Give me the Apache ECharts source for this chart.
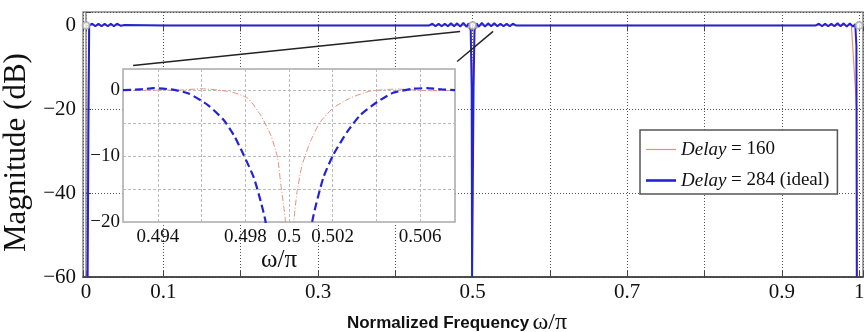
<!DOCTYPE html>
<html><head><meta charset="utf-8">
<script src="https://cdn.jsdelivr.net/npm/echarts@6/dist/echarts.min.js"></script>
<style>html,body{margin:0;padding:0;background:#fff}#c{width:864px;height:332px}</style>
</head><body><div id="c"></div>
<script>
const seriesNames = ['Delay = 160', 'Delay = 284 (ideal)'];
const mainXTickLabels = ['0', '0.1', '0.3', '0.5', '0.7', '0.9', '1'];
const mainYTickLabels = [0, -20, -40, -60];
const insetXTickLabels = ['0.494', '0.498', '0.5', '0.502', '0.506'];
const insetYTickLabels = [0, -10, -20];

// main panel, Delay = 284 (ideal)  [omega/pi, dB]
const mainBlue = [
  [0.002, -60], [0.003, -25], [0.004, 0], [0.008, 0.4], [0.012, -0.2], [0.016, 0.4], [0.020, -0.2],
  [0.024, 0.4], [0.028, -0.2], [0.032, 0.4], [0.036, -0.2], [0.040, 0.4], [0.045, -0.1], [0.05, 0.1],
  [0.1, 0], [0.2, 0], [0.3, 0], [0.4, 0], [0.444, 0], [0.448, 0.4], [0.452, -0.2], [0.456, 0.4],
  [0.460, -0.2], [0.464, 0.4], [0.468, -0.2], [0.472, 0.5], [0.476, -0.2], [0.480, 0.5], [0.484, -0.3],
  [0.488, 0.6], [0.492, -0.3], [0.495, 0.5], [0.4975, -1], [0.4988, -15], [0.4993, -60],
  [0.5007, -60], [0.5012, -15], [0.5025, -1], [0.505, 0.5], [0.508, -0.3], [0.512, 0.6], [0.516, -0.3],
  [0.520, 0.5], [0.524, -0.2], [0.528, 0.5], [0.532, -0.2], [0.536, 0.4], [0.540, -0.2], [0.544, 0.4],
  [0.548, -0.2], [0.552, 0.4], [0.556, 0], [0.6, 0], [0.7, 0], [0.8, 0], [0.9, 0], [0.944, 0],
  [0.948, 0.4], [0.952, -0.2], [0.956, 0.4], [0.960, -0.2], [0.964, 0.4], [0.968, -0.2], [0.972, 0.5],
  [0.976, -0.2], [0.980, 0.5], [0.984, -0.3], [0.988, 0.5], [0.992, -0.3], [0.995, 0.3], [0.9965, -5],
  [0.997, -60]
];
// main panel, Delay = 160
const mainRed = [
  [0.0015, -60], [0.0025, -20], [0.0035, 0], [0.06, 0], [0.49, 0], [0.4975, -1], [0.4993, -10],
  [0.4998, -40], [0.5002, -40], [0.5007, -10], [0.5025, -1], [0.51, 0], [0.99, 0], [0.9968, -20],
  [0.9975, -60]
];
// inset (zoom around 0.5)
const insetBlue = [
  [0.4924, 0], [0.4932, 0.1], [0.4938, 0.3], [0.4946, 0.1], [0.4954, -0.5], [0.4963, -2.3],
  [0.4970, -4.5], [0.49747, -6.8], [0.49792, -9.8], [0.49838, -13.2], [0.4987, -16.8], [0.49893, -20],
  [0.4995, -35], [0.5005, -35], [0.50106, -20], [0.50157, -13.3], [0.50203, -9.8], [0.50267, -6.3],
  [0.50326, -3.8], [0.50404, -1.8], [0.50477, -0.4], [0.50568, 0.2], [0.50632, 0.3], [0.5070, 0.1],
  [0.5076, 0]
];
const insetRed = [
  [0.4924, 0], [0.4949, 0], [0.4960, 0.2], [0.4973, -0.25], [0.4981, -1.2], [0.4987, -3.8],
  [0.49916, -6.8], [0.49948, -10.3], [0.49961, -13.9], [0.49975, -17.4], [0.49984, -20], [0.5000, -30],
  [0.50022, -20], [0.50037, -15.4], [0.5006, -11.4], [0.50098, -7.8], [0.50144, -4.8], [0.50203, -2.7],
  [0.50281, -1.2], [0.50372, -0.15], [0.50495, 0.15], [0.50646, -0.1], [0.5076, 0]
];
// zoom-callout lines (data coords of main panel)
const zoomLines = [
  [[0.0608, -9.56], [0.4838, -1.43]],
  [[0.480, -8.6], [0.5265, -1.43]]
];
const cursorMarks = [[0, 0], [0.5, 0], [1, 0]];

const SERIF = "'Liberation Serif','Times New Roman',serif";
const SANS = "'Liberation Sans',Arial,sans-serif";
const BLUE = '#2323d4';
const RED = '#e8907f';
const minusFmt = v => (v < 0 ? '\u2212' + Math.abs(v) : String(v));

const chart = echarts.init(document.getElementById('c'), null, {renderer: 'canvas'});
chart.setOption({
  animation: false,
  backgroundColor: '#fff',
  grid: [
    {left: 83, top: 12, right: 1, bottom: 55, show: true, containLabel: false, outerBoundsMode: 'none',
      borderColor: '#888', borderWidth: 1.5, backgroundColor: 'transparent', z: 0},
    {left: 123, top: 69, width: 332, height: 153, show: true, containLabel: false, outerBoundsMode: 'none',
      borderColor: '#aaa', borderWidth: 1.5, backgroundColor: '#fff', z: 5}
  ],
  xAxis: [
    {
      gridIndex: 0, type: 'value', min: -0.004, max: 1.005, splitNumber: 10,
      axisLine: {show: true, onZero: false, lineStyle: {color: '#333', width: 1.5}},
      axisTick: {show: true, inside: true, length: 6, lineStyle: {color: '#444'}},
      axisLabel: {
        margin: 5, fontFamily: SERIF, fontSize: 21, color: '#111',
        formatter: v => { const s = String(Math.round(v * 1000) / 1000); return mainXTickLabels.includes(s) ? s : ''; }
      },
      splitLine: {show: true, lineStyle: {color: '#555', type: [1, 2], width: 1}},
      name: '{b|Normalized Frequency} {w|\u03c9/\u03c0}', nameLocation: 'middle', nameGap: 34,
      nameTextStyle: {padding: [0, 32, 0, 0], rich: {
        b: {fontFamily: SANS, fontWeight: 'bold', fontSize: 17, color: '#111'},
        w: {fontFamily: SERIF, fontSize: 24, color: '#111'}
      }}
    },
    {
      gridIndex: 0, type: 'value', position: 'top', min: -0.004, max: 1.005, splitNumber: 10,
      axisLine: {show: false}, axisLabel: {show: false}, splitLine: {show: false},
      axisTick: {show: true, inside: true, length: 6, lineStyle: {color: '#444'}}
    },
    {
      gridIndex: 1, type: 'value', min: 0.4924, max: 0.5076, splitNumber: 8, z: 6,
      axisLine: {show: false}, axisTick: {show: false},
      axisLabel: {
        margin: 6, fontFamily: SERIF, fontSize: 19, color: '#111',
        formatter: v => { const s = String(Math.round(v * 1000) / 1000); return insetXTickLabels.includes(s) ? s : ''; }
      },
      splitLine: {show: true, lineStyle: {color: '#bbb', type: [3, 2], width: 1}},
      name: '\u03c9/\u03c0', nameLocation: 'middle', nameGap: 24,
      nameTextStyle: {fontFamily: SERIF, fontSize: 25, color: '#111', padding: [0, 20, 0, 0]}
    }
  ],
  yAxis: [
    {
      gridIndex: 0, type: 'value', min: -60, max: 3.2, interval: 20,
      axisLine: {show: true, lineStyle: {color: '#888', width: 1.5}},
      axisTick: {show: true, inside: true, length: 5, lineStyle: {color: '#444'}},
      axisLabel: {
        margin: 7, fontFamily: SERIF, fontSize: 21, color: '#111',
        formatter: v => (mainYTickLabels.includes(v) ? minusFmt(v) : '')
      },
      splitLine: {show: true, lineStyle: {color: '#555', type: [1, 2], width: 1}},
      name: 'Magnitude (dB)', nameLocation: 'middle', nameGap: 47,
      nameTextStyle: {fontFamily: SERIF, fontSize: 31, color: '#111', padding: [0, 16, 0, 0]}
    },
    {
      gridIndex: 1, type: 'value', min: -20, max: 3.2, interval: 5, z: 6,
      axisLine: {show: false}, axisTick: {show: false},
      axisLabel: {
        margin: 3, fontFamily: SERIF, fontSize: 19, color: '#111',
        formatter: v => (insetYTickLabels.includes(v) ? minusFmt(v) : '')
      },
      splitLine: {show: true, lineStyle: {color: '#bbb', type: [3, 2], width: 1}}
    }
  ],
  legend: {
    data: [
      {name: seriesNames[0], icon: 'path://M0,0H30V1.2H0Z'},
      {name: seriesNames[1], icon: 'path://M0,0H30V2.6H0Z'}
    ],
    orient: 'vertical', left: 640, top: 130,
    padding: [10, 8, 4, 6], itemGap: 12, itemWidth: 30, itemHeight: 14, symbolKeepAspect: true,
    backgroundColor: '#fff', borderColor: '#555', borderWidth: 1.5, borderRadius: 0, z: 10,
    textStyle: {fontFamily: SERIF, fontSize: 19, color: '#111', rich: {
      i: {fontFamily: SERIF, fontSize: 19, fontStyle: 'italic', color: '#111'},
      n: {fontFamily: SERIF, fontSize: 19, color: '#111'}
    }},
    formatter: name => '{i|Delay}{n|' + name.replace('Delay', '') + '}'
  },
  series: [
    {
      name: seriesNames[0], type: 'line', xAxisIndex: 0, yAxisIndex: 0, data: mainRed,
      symbol: 'none', lineStyle: {color: RED, width: 1.2}, itemStyle: {color: RED}, z: 2
    },
    {
      name: seriesNames[1], type: 'line', xAxisIndex: 0, yAxisIndex: 0, data: mainBlue,
      symbol: 'none', lineStyle: {color: BLUE, width: 2}, itemStyle: {color: BLUE}, z: 3,
      markLine: {
        silent: true, symbol: ['none', 'none'], label: {show: false},
        lineStyle: {color: '#222', width: 1.5, type: 'solid'},
        data: zoomLines.map(l => [{coord: l[0]}, {coord: l[1]}])
      }
    },
    {
      name: 'cursor', type: 'scatter', xAxisIndex: 0, yAxisIndex: 0, data: cursorMarks,
      symbol: 'emptyCircle', symbolSize: 7, itemStyle: {color: '#aaa', borderColor: '#aaa'}, z: 4
    },
    {
      name: seriesNames[0], type: 'line', xAxisIndex: 2, yAxisIndex: 1, data: insetRed,
      symbol: 'none', smooth: 0.2, lineStyle: {color: RED, width: 1, type: [6, 2, 1, 2]}, itemStyle: {color: RED}, z: 7
    },
    {
      name: seriesNames[1], type: 'line', xAxisIndex: 2, yAxisIndex: 1, data: insetBlue,
      symbol: 'none', smooth: 0.2, lineStyle: {color: BLUE, width: 2.2, type: [8, 4]}, itemStyle: {color: BLUE}, z: 8
    }
  ]
});
</script></body></html>
